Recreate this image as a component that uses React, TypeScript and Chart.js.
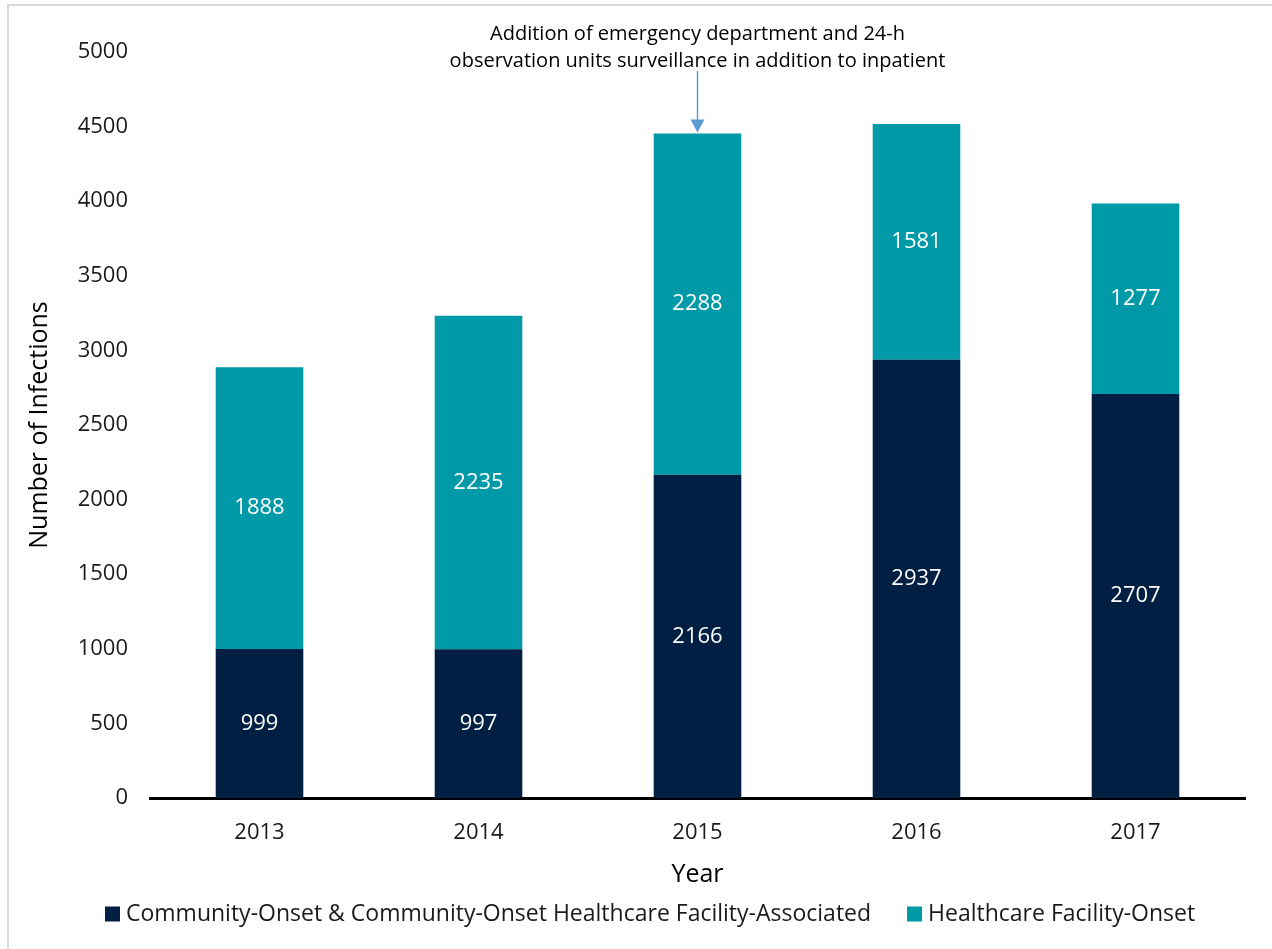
import React, { useEffect, useRef } from "react";
import { Chart, registerables } from "chart.js";

Chart.register(...registerables);

const years = ["2013", "2014", "2015", "2016", "2017"];
const communityOnset = [999, 997, 2166, 2937, 2707];
const facilityOnset = [1888, 2235, 2288, 1581, 1277];
const seriesNames = [
  "Community-Onset & Community-Onset Healthcare Facility-Associated",
  "Healthcare Facility-Onset",
];
const seriesColors = ["#001F42", "#0099A7"];
const yAxisTitle = "Number of Infections";
const xAxisTitle = "Year";
const annotationLines = [
  "Addition of emergency department and 24-h",
  "observation units surveillance in addition to inpatient",
];
const annotatedIndex = 2;

const FONT = "'Open Sans', 'Noto Sans', sans-serif";

export default function App() {
  const canvasRef = useRef<HTMLCanvasElement | null>(null);

  useEffect(() => {
    document.body.style.margin = "0";
    const canvas = canvasRef.current;
    if (!canvas) return;

    const extras = {
      id: "extras",
      afterDraw(chart: any) {
        const ctx = chart.ctx;
        const area = chart.chartArea;
        ctx.save();
        // data labels
        ctx.fillStyle = "#ffffff";
        ctx.font = `22px ${FONT}`;
        ctx.textAlign = "center";
        ctx.textBaseline = "middle";
        chart.data.datasets.forEach((ds: any, di: number) => {
          const meta = chart.getDatasetMeta(di);
          meta.data.forEach((el: any, i: number) => {
            const cy = (el.y + el.base) / 2;
            ctx.fillText(String(ds.data[i]), el.x, cy);
          });
        });
        // y axis title
        ctx.fillStyle = "#000000";
        ctx.font = `25px ${FONT}`;
        ctx.save();
        ctx.translate(40, (area.top + area.bottom) / 2);
        ctx.rotate(-Math.PI / 2);
        ctx.fillText(yAxisTitle, 0, 0);
        ctx.restore();
        // x axis title
        ctx.font = `25px ${FONT}`;
        ctx.fillText(xAxisTitle, (area.left + area.right) / 2, 875);
        // legend
        ctx.font = `23px ${FONT}`;
        ctx.textAlign = "left";
        const legendY = 914;
        const box = 15;
        const w0 = ctx.measureText(seriesNames[0]).width;
        let lx = 105;
        ctx.fillStyle = seriesColors[0];
        ctx.fillRect(lx, legendY - box / 2, box, box);
        ctx.fillStyle = "#1a1a1a";
        ctx.fillText(seriesNames[0], lx + box + 6, legendY);
        lx = lx + box + 6 + w0 + 36;
        ctx.fillStyle = seriesColors[1];
        ctx.fillRect(lx, legendY - box / 2, box, box);
        ctx.fillStyle = "#1a1a1a";
        ctx.fillText(seriesNames[1], lx + box + 6, legendY);
        // annotation
        const xs = chart.scales.x;
        const ys = chart.scales.y;
        const ax = xs.getPixelForValue(annotatedIndex);
        const topVal = communityOnset[annotatedIndex] + facilityOnset[annotatedIndex];
        const tipY = ys.getPixelForValue(topVal) - 1;
        ctx.fillStyle = "#000000";
        ctx.font = `20px ${FONT}`;
        ctx.textAlign = "center";
        ctx.fillText(annotationLines[0], ax, 34);
        ctx.fillText(annotationLines[1], ax, 61);
        ctx.strokeStyle = "#5B9BD5";
        ctx.fillStyle = "#5B9BD5";
        ctx.lineWidth = 1.5;
        ctx.beginPath();
        ctx.moveTo(ax, 71);
        ctx.lineTo(ax, tipY - 12);
        ctx.stroke();
        ctx.beginPath();
        ctx.moveTo(ax - 7, tipY - 13);
        ctx.lineTo(ax + 7, tipY - 13);
        ctx.lineTo(ax, tipY);
        ctx.closePath();
        ctx.fill();
        ctx.restore();
      },
    };

    const chart = new Chart(canvas, {
      type: "bar",
      data: {
        labels: years,
        datasets: [
          {
            label: seriesNames[0],
            data: communityOnset,
            backgroundColor: seriesColors[0],
            categoryPercentage: 1,
            barPercentage: 0.4,
          },
          {
            label: seriesNames[1],
            data: facilityOnset,
            backgroundColor: seriesColors[1],
            categoryPercentage: 1,
            barPercentage: 0.4,
          },
        ],
      },
      options: {
        responsive: false,
        animation: false,
        layout: { padding: { top: 52, right: 27, left: 0, bottom: 0 } },
        plugins: {
          legend: { display: false },
          tooltip: { enabled: false },
        },
        scales: {
          x: {
            stacked: true,
            grid: { display: false, drawTicks: false },
            border: { display: true, color: "#000000", width: 3 },
            ticks: { color: "#1a1a1a", font: { family: FONT, size: 22 }, padding: 22 },
            afterFit: (s: any) => {
              s.height = 151;
            },
          },
          y: {
            stacked: true,
            min: 0,
            max: 5000,
            grid: { display: false, drawTicks: false },
            border: { display: false },
            ticks: {
              stepSize: 500,
              color: "#1a1a1a",
              font: { family: FONT, size: 22 },
              padding: 22,
              callback: (v: any) => String(v),
            },
            afterFit: (s: any) => {
              s.width = 150;
            },
          },
        },
      },
      plugins: [extras],
    });
    return () => chart.destroy();
  }, []);

  return (
    <div style={{ position: "fixed", left: 0, top: 0, width: 1272, height: 949, background: "#fff" }}>
      <canvas ref={canvasRef} width={1272} height={949} style={{ position: "absolute", left: 0, top: 0 }} />
      <div
        style={{
          position: "absolute",
          left: 7,
          top: 4,
          width: 1272,
          height: 960,
          borderLeft: "2px solid #d9d9d9",
          borderTop: "2px solid #d9d9d9",
          pointerEvents: "none",
        }}
      />
    </div>
  );
}
